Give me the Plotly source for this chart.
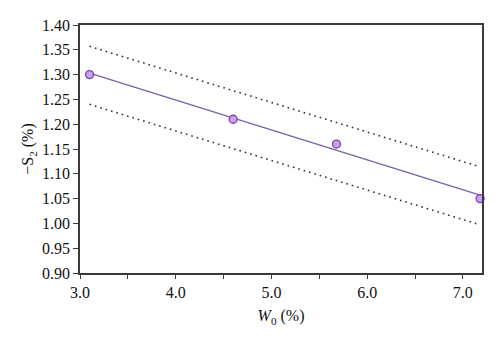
import numpy as np
import plotly.graph_objects as go

# Measured data
w0 = [3.10, 4.60, 5.68, 7.18]          # W0 (%)
neg_s2 = [1.30, 1.21, 1.16, 1.05]      # -S2 (%)

# Confidence band end points
band_x = [3.10, 7.18]
band_upper = [1.357, 1.114]
band_lower = [1.240, 0.997]

x_ticks = [3.0, 4.0, 5.0, 6.0, 7.0]
y_ticks = [0.90, 0.95, 1.00, 1.05, 1.10, 1.15, 1.20, 1.25, 1.30, 1.35, 1.40]

# Least-squares fit line
slope, intercept = np.polyfit(w0, neg_s2, 1)
fit_x = [w0[0], w0[-1]]
fit_y = [slope * v + intercept for v in fit_x]

FONT = "Liberation Serif, Times New Roman, serif"
AXIS = "#3a3a3a"
TEXT = "#111111"

fig = go.Figure()

for yb in (band_upper, band_lower):
    fig.add_trace(go.Scatter(
        x=band_x, y=yb, mode="lines",
        line=dict(color="#333333", width=1.6, dash="1.6px,4px"),
        showlegend=False, hoverinfo="skip",
    ))

fig.add_trace(go.Scatter(
    x=fit_x, y=fit_y, mode="lines",
    line=dict(color="#7b62a8", width=1.4),
    showlegend=False,
))

fig.add_trace(go.Scatter(
    x=w0, y=neg_s2, mode="markers",
    marker=dict(size=8, color="#c9a3ea", line=dict(color="#7c3fb3", width=1.3)),
    showlegend=False, cliponaxis=False,
))

fig.update_layout(
    width=500, height=345,
    margin=dict(l=80, r=18, t=25, b=72),
    paper_bgcolor="white", plot_bgcolor="white",
    font=dict(family=FONT, size=16, color=TEXT),
)

fig.update_xaxes(
    range=[3.0, 7.2],
    tickvals=x_ticks, ticktext=[f"{v:.1f}" for v in x_ticks],
    tickfont=dict(family=FONT, size=16, color=TEXT),
    ticks="outside", ticklen=4, tickcolor=AXIS, tickwidth=1,
    minor=dict(dtick=0.5, tick0=3.0, ticks="outside", ticklen=4, tickcolor=AXIS),
    showline=True, linecolor=AXIS, linewidth=1.6, mirror=True,
    showgrid=False, zeroline=False,
    title=dict(text="<i>W</i><sub>0</sub> (%)", standoff=10,
               font=dict(family=FONT, size=16, color=TEXT)),
)

fig.update_yaxes(
    range=[0.90, 1.40],
    tickvals=y_ticks, ticktext=[f"{v:.2f}" for v in y_ticks],
    tickfont=dict(family=FONT, size=16, color=TEXT),
    ticks="outside", ticklen=5, tickcolor=AXIS, tickwidth=1,
    showline=True, linecolor=AXIS, linewidth=1.6, mirror=True,
    showgrid=False, zeroline=False,
    title=dict(text="\u2212S<sub>2</sub> (%)", standoff=4,
               font=dict(family=FONT, size=16, color=TEXT)),
)

fig.write_html("out.html")
